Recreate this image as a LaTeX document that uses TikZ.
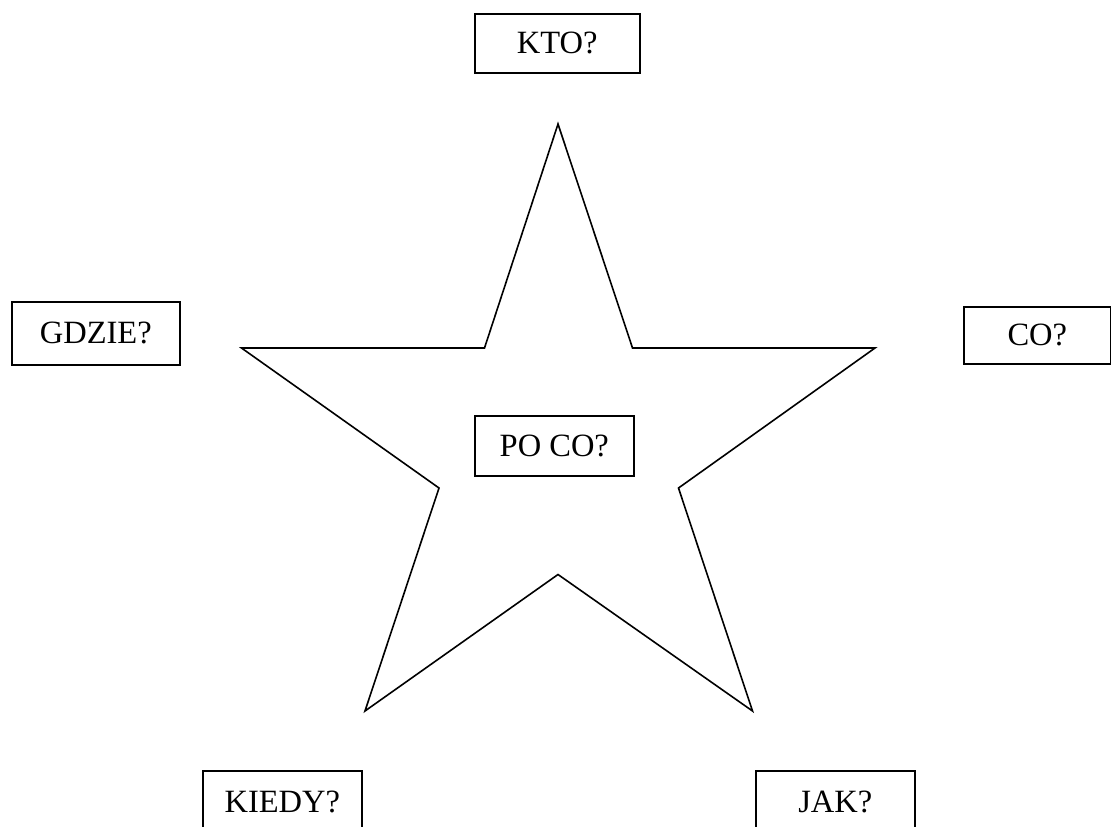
\documentclass[tikz,border=0pt]{standalone}
\usepackage{fontspec}
\setmainfont{Liberation Serif}
\begin{document}
\begin{tikzpicture}[x=1pt,y=-1pt,
  qbox/.style={draw=black, line width=1.6pt, inner sep=0pt, font=\fontsize{32.5}{38}\selectfont, anchor=north west},
  starline/.style={draw=black, line width=1.6pt, line join=miter}]
\useasboundingbox (0,0) rectangle (1111,827);
% star vertices
\coordinate (t) at (558,124);
\coordinate (ul) at (484.5,348);
\coordinate (l) at (241.5,348);
\coordinate (ll) at (439,488);
\coordinate (bl) at (365,711);
\coordinate (b) at (558,574.5);
\coordinate (br) at (752.5,711);
\coordinate (lr) at (678.5,488);
\coordinate (r) at (875,348);
\coordinate (ur) at (632.5,348);
\draw[starline] (t) -- (ur) -- (r) -- (lr) -- (br) -- (b) -- (bl) -- (ll) -- (l) -- (ul) -- cycle;
% boxes
\node[qbox, minimum width=165pt, minimum height=59pt] (kto) at (474,13) {KTO?};
\node[qbox, minimum width=168pt, minimum height=63pt] (gdzie) at (11,301) {GDZIE?};
\node[qbox, minimum width=147pt, minimum height=57pt] (co) at (963,306) {CO?};
\node[qbox, minimum width=159pt, minimum height=60pt] (poco) at (474,415) {PO CO?};
\node[qbox, minimum width=159pt, minimum height=62pt] (kiedy) at (202,770) {KIEDY?};
\node[qbox, minimum width=159pt, minimum height=62pt] (jak) at (755,770) {JAK?};
\end{tikzpicture}
\end{document}
